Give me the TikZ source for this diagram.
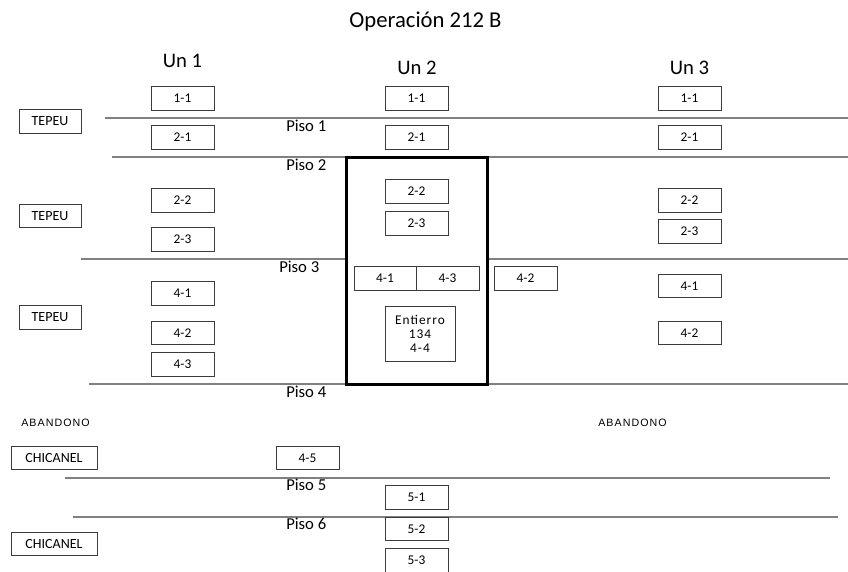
\documentclass[tikz,border=0pt]{standalone}
\usepackage{fontspec}
\setmainfont{Carlito}
\newfontfamily\abfont[LetterSpace=10]{Liberation Sans}
\newfontfamily\enfont[LetterSpace=8]{Carlito}
\definecolor{linegray}{RGB}{128,128,128}
\definecolor{boxline}{RGB}{60,60,60}
\tikzset{
  bx/.style={draw=boxline, line width=0.75pt, minimum width=47.25pt, minimum height=17.5pt, inner sep=0pt, font=\fontsize{10}{12}\selectfont},
  lbl/.style={draw=boxline, line width=0.75pt, minimum width=46.5pt, minimum height=17.5pt, inner sep=0pt, font=\fontsize{10.5}{12}\selectfont},
  piso/.style={anchor=base west, inner sep=0pt, font=\fontsize{12.5}{14}\selectfont},
  unit/.style={anchor=base, inner sep=0pt, font=\fontsize{15.5}{18}\selectfont},
  aband/.style={anchor=base west, inner sep=0pt, font=\abfont\fontsize{8}{10}\selectfont},
  floor/.style={draw=linegray, line width=0.9pt},
}
\begin{document}
\begin{tikzpicture}[x=0.75pt, y=-0.75pt]
\useasboundingbox (0,0) rectangle (848,571);
\clip (0,0) rectangle (848,571);
% title and units
\node[anchor=base, inner sep=0pt, font=\fontsize{17}{20}\selectfont] (title) at (425.5,27) {Operación 212 B};
\node[unit] (un1) at (182.5,67) {Un 1};
\node[unit] (un2) at (417,74) {Un 2};
\node[unit] (un3) at (689.5,74) {Un 3};
% floor lines
\coordinate (p1a) at (105,118);  \coordinate (p1b) at (848,118);
\coordinate (p2a) at (112,157);  \coordinate (p2b) at (346,157);
\coordinate (p2c) at (487,157);  \coordinate (p2d) at (848,157);
\coordinate (p3a) at (81,259);   \coordinate (p3b) at (346,259);
\coordinate (p3c) at (487,259);  \coordinate (p3d) at (848,259);
\coordinate (p4a) at (89,384);   \coordinate (p4b) at (346,384);
\coordinate (p4c) at (487,384);  \coordinate (p4d) at (848,384);
\coordinate (p5a) at (65,478);   \coordinate (p5b) at (830,478);
\coordinate (p6a) at (73,517);   \coordinate (p6b) at (838,517);
\draw[floor] (p1a) -- (p1b);
\draw[floor] (p2a) -- (p2b);
\draw[floor] (p2c) -- (p2d);
\draw[floor] (p3a) -- (p3b);
\draw[floor] (p3c) -- (p3d);
\draw[floor] (p4a) -- (p4b);
\draw[floor] (p4c) -- (p4d);
\draw[floor] (p5a) -- (p5b);
\draw[floor] (p6a) -- (p6b);
% thick box
\coordinate (tk1) at (346,157);
\coordinate (tk2) at (487,384);
\draw[black, line width=2.25pt] (tk1) rectangle (tk2);
% piso labels
\node[piso] (piso1) at (286,131) {Piso 1};
\node[piso] (piso2) at (286,170) {Piso 2};
\node[piso] (piso3) at (279,272) {Piso 3};
\node[piso] (piso4) at (286,397) {Piso 4};
\node[piso] (piso5) at (286,490) {Piso 5};
\node[piso] (piso6) at (286,529) {Piso 6};
% side labels
\node[lbl] (tep1) at (50,121.5) {TEPEU};
\node[lbl] (tep2) at (50,216) {TEPEU};
\node[lbl] (tep3) at (50,317.5) {TEPEU};
\node[lbl, minimum width=64.5pt] (chi1) at (54,458) {CHICANEL};
\node[lbl, minimum width=64.5pt] (chi2) at (54,544) {CHICANEL};
\node[aband] (ab1) at (21,426) {ABANDONO};
\node[aband] (ab2) at (598,426) {ABANDONO};
% Un 1
\node[bx] (a11) at (182.5,98.5) {1-1};
\node[bx] (a21) at (182.5,137.5) {2-1};
\node[bx] (a22) at (182.5,200.5) {2-2};
\node[bx] (a23) at (182.5,239.5) {2-3};
\node[bx] (a41) at (182.5,293.5) {4-1};
\node[bx] (a42) at (182.5,333) {4-2};
\node[bx] (a43) at (182.5,364.5) {4-3};
% Un 2
\node[bx] (b11) at (416.5,98.5) {1-1};
\node[bx] (b21) at (416.5,137.5) {2-1};
\node[bx] (b22) at (416.5,191.5) {2-2};
\node[bx] (b23) at (416.5,223.5) {2-3};
\node[bx, minimum width=46.5pt] (b41) at (385,278.5) {4-1};
\node[bx] (b43) at (447.5,278.5) {4-3};
\node[bx] (b42) at (525.5,278.5) {4-2};
\node[bx, minimum width=52.5pt, minimum height=41.25pt, align=center, font=\enfont\fontsize{10}{10.5}\selectfont] (ent) at (420,333.5) {Entierro\\134\\4-4};
\node[bx] (b45) at (307.5,458) {4-5};
\node[bx] (b51) at (416.5,497.5) {5-1};
\node[bx] (b52) at (416.5,529) {5-2};
\node[bx] (b53) at (416.5,560.5) {5-3};
% Un 3
\node[bx] (c11) at (689.5,98.5) {1-1};
\node[bx] (c21) at (689.5,137.5) {2-1};
\node[bx] (c22) at (689.5,200.5) {2-2};
\node[bx] (c23) at (689.5,231.5) {2-3};
\node[bx] (c41) at (689.5,286) {4-1};
\node[bx] (c42) at (689.5,333) {4-2};
\end{tikzpicture}
\end{document}
